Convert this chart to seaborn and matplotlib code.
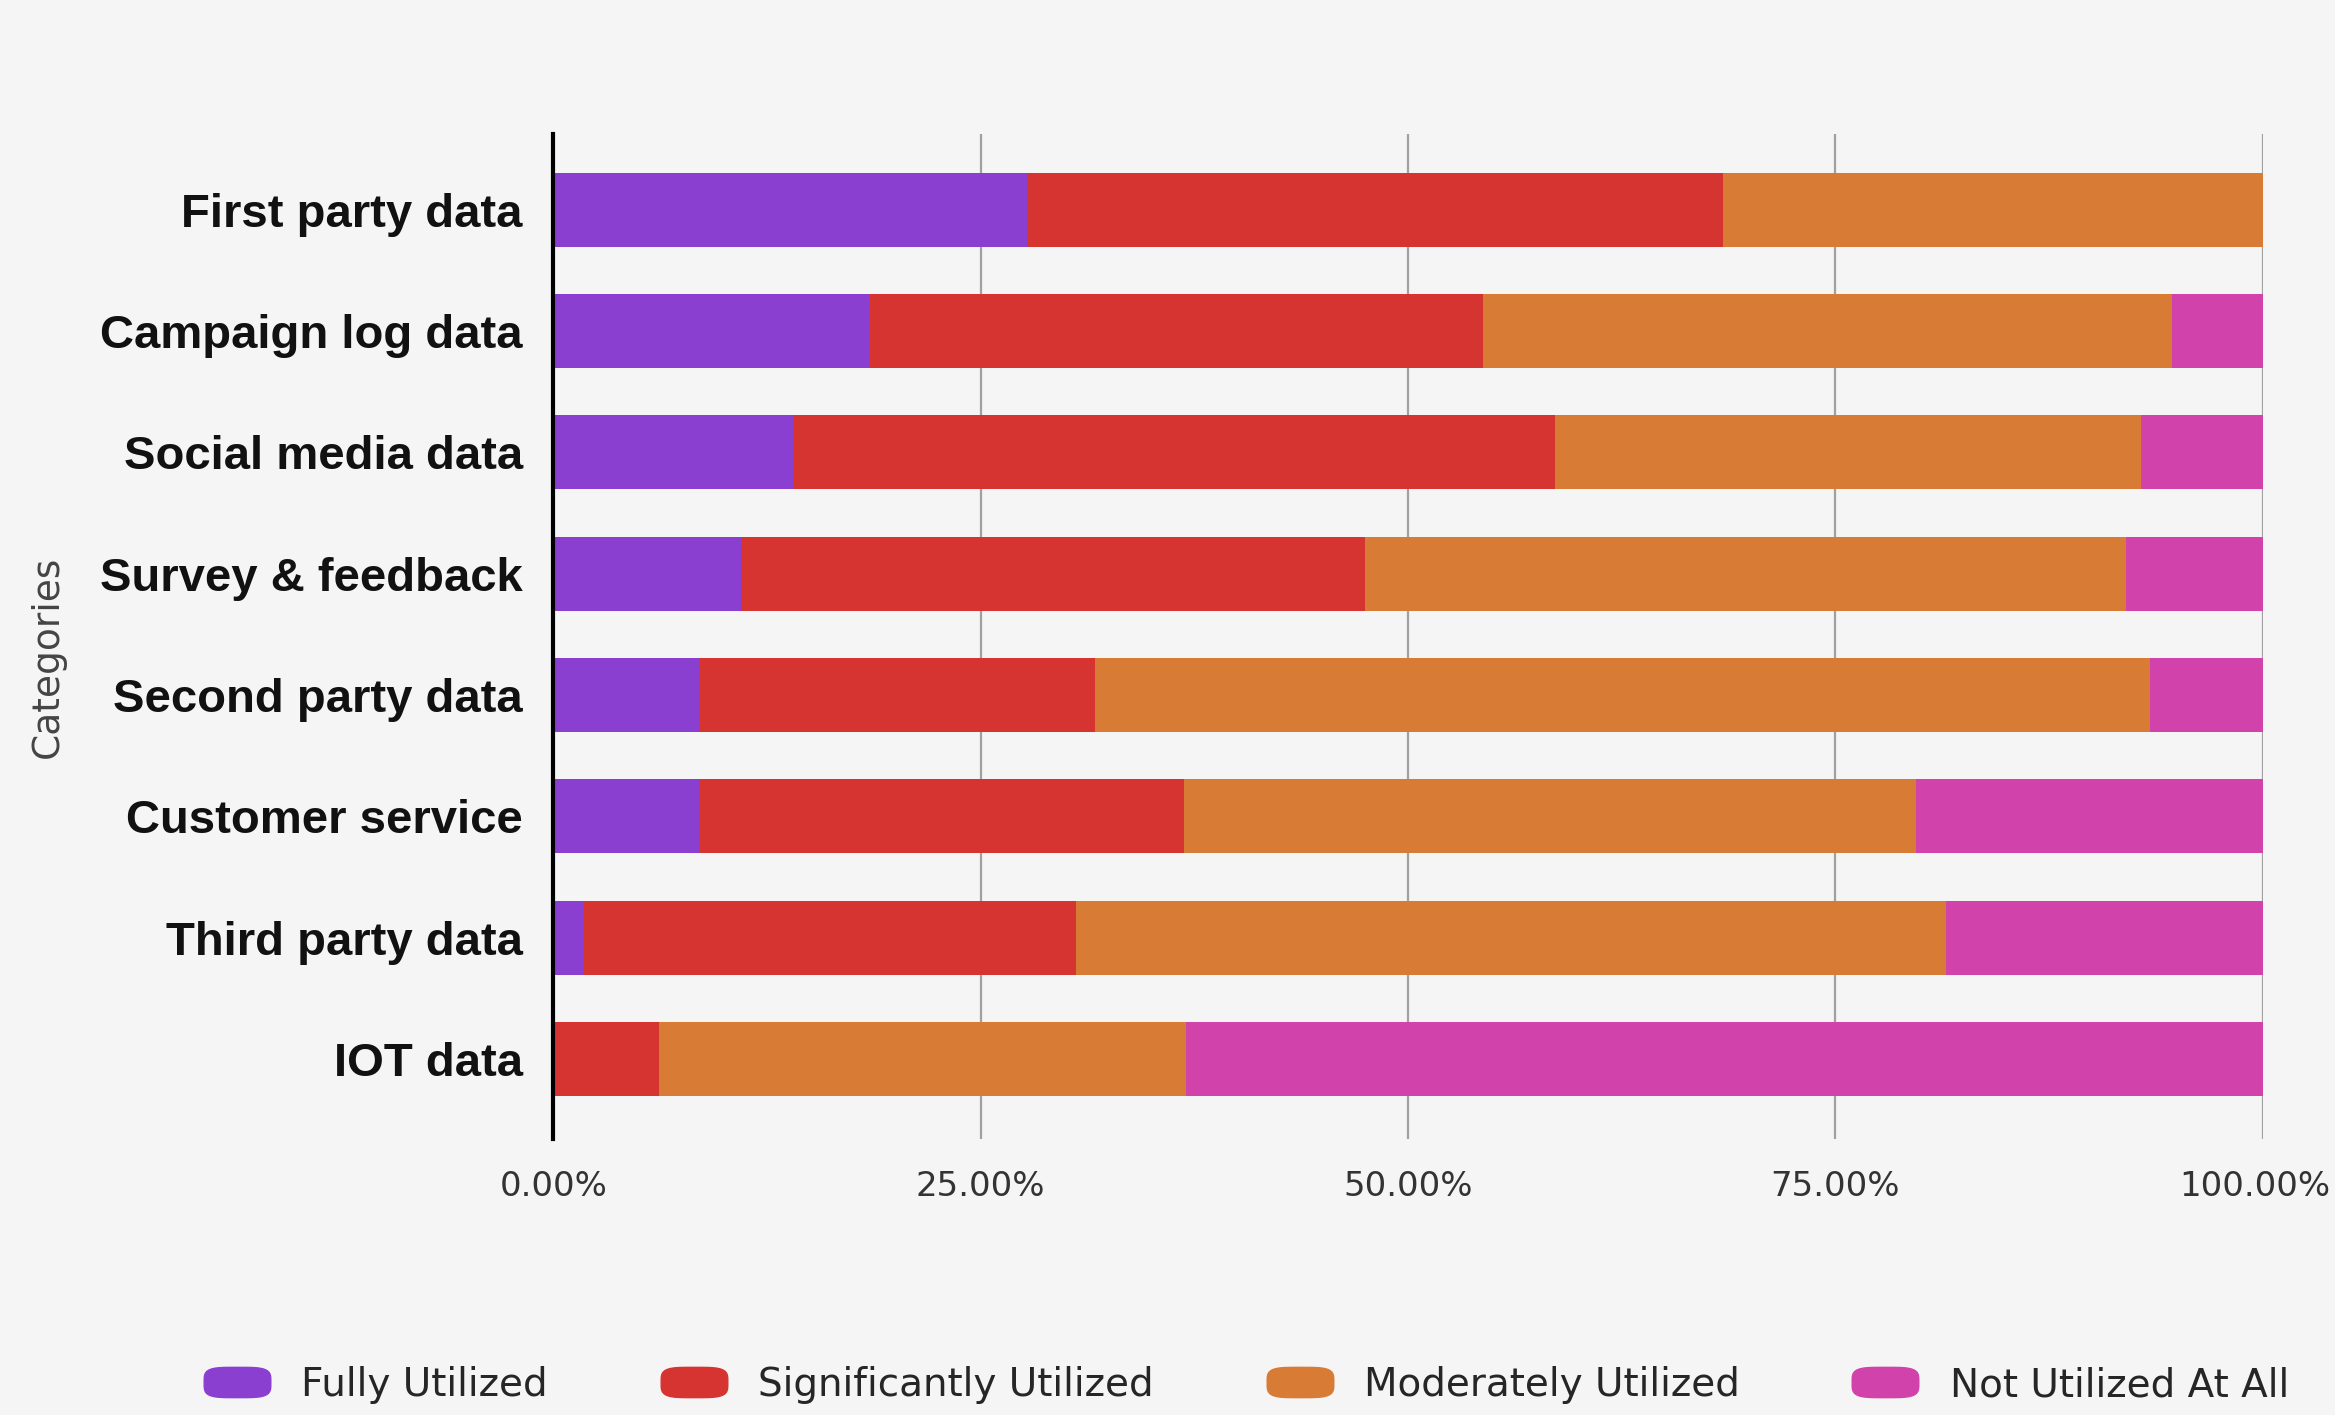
import matplotlib
matplotlib.use("Agg")
import matplotlib.pyplot as plt
import matplotlib.transforms as mtransforms
import seaborn as sns
import numpy as np
import pandas as pd
from matplotlib.lines import Line2D
from matplotlib.path import Path

categories = ["First party data", "Campaign log data", "Social media data", "Survey & feedback",
              "Second party data", "Customer service", "Third party data", "IOT data"]
series_names = ["Fully Utilized", "Significantly Utilized", "Moderately Utilized", "Not Utilized At All"]
fully = [27.7, 18.5, 14.1, 11.0, 8.6, 8.6, 1.8, 0.0]
significantly = [40.7, 35.9, 44.5, 36.5, 23.1, 28.3, 28.8, 6.2]
moderately = [31.6, 40.3, 34.3, 44.5, 61.7, 42.8, 50.9, 30.8]
not_at_all = [0.0, 5.3, 7.1, 8.0, 6.6, 20.3, 18.5, 63.0]
xtick_values = [0, 25, 50, 75, 100]
xtick_labels = ["0.00%", "25.00%", "50.00%", "75.00%", "100.00%"]
colors = ["#8A3FD1", "#D63430", "#D77B35", "#D142AB"]

sns.set_theme(style="white")
plt.rcParams['font.family'] = ['Liberation Sans', 'DejaVu Sans']

bg = "#f5f5f5"
fig = plt.figure(figsize=(23.35, 14.15), dpi=100, facecolor=bg)
ax = fig.add_axes([0.237, 0.195, 0.732, 0.71])
ax.set_facecolor(bg)

df = pd.DataFrame({"cat": categories, "f": fully, "s": significantly, "m": moderately, "n": not_at_all})
vals = df[["f", "s", "m", "n"]].to_numpy()
cum = np.cumsum(vals, axis=1)

# draw from the largest cumulative layer down so each stack segment shows
for i in range(3, -1, -1):
    layer = pd.DataFrame({"cat": categories, "v": cum[:, i]})
    sns.barplot(data=layer, y="cat", x="v", orient="h", color=colors[i], width=0.61,
                saturation=1, ax=ax, zorder=3, linewidth=0, order=categories)

ax.set_xlim(0, 100)
ax.set_ylim(7.66, -0.62)
ax.set_xticks(xtick_values)
ax.set_xticklabels(xtick_labels, family=['DejaVu Sans'], fontsize=24.5, color="#333333")
ax.tick_params(axis="x", length=0, pad=22)
ax.tick_params(axis="y", length=0, pad=22)
# nudge the last tick label slightly left so it stays inside the figure
last = ax.get_xticklabels()[-1]
last.set_transform(last.get_transform() + mtransforms.ScaledTranslation(-8 / 100, 0, fig.dpi_scale_trans))
for lab in ax.get_yticklabels():
    lab.set_fontweight("bold")
    lab.set_fontsize(34)
    lab.set_color("#111111")

ax.grid(axis="x", color="#a0a0a0", linewidth=1.6, zorder=1)
ax.grid(axis="y", visible=False)
for s in ["top", "right", "bottom"]:
    ax.spines[s].set_visible(False)
ax.spines["left"].set_color("#000000")
ax.spines["left"].set_linewidth(3)
ax.spines["left"].set_zorder(4)

ax.set_xlabel("")
ax.set_ylabel("Categories", family=['DejaVu Sans'], fontsize=27, color="#444444")
ax.yaxis.set_label_coords(-0.285, 0.48)

# rounded pill marker for legend
t = np.linspace(0, 2 * np.pi, 60)
pill = Path(np.column_stack([1.1 * np.sign(np.cos(t)) * np.abs(np.cos(t)) ** 0.5,
                             0.5 * np.sign(np.sin(t)) * np.abs(np.sin(t)) ** 0.5]))
handles = [Line2D([0], [0], linestyle="none", marker=pill, markersize=48,
                  markerfacecolor=c, markeredgecolor=c) for c in colors]
fig.legend(handles, series_names, loc="lower center", bbox_to_anchor=(0.533, -0.017),
           ncol=4, frameon=False, prop={"family": ['DejaVu Sans'], "size": 28},
           columnspacing=2.8, handletextpad=0.7, handlelength=1.9)

fig.savefig("out.png", dpi=100, facecolor=bg)
